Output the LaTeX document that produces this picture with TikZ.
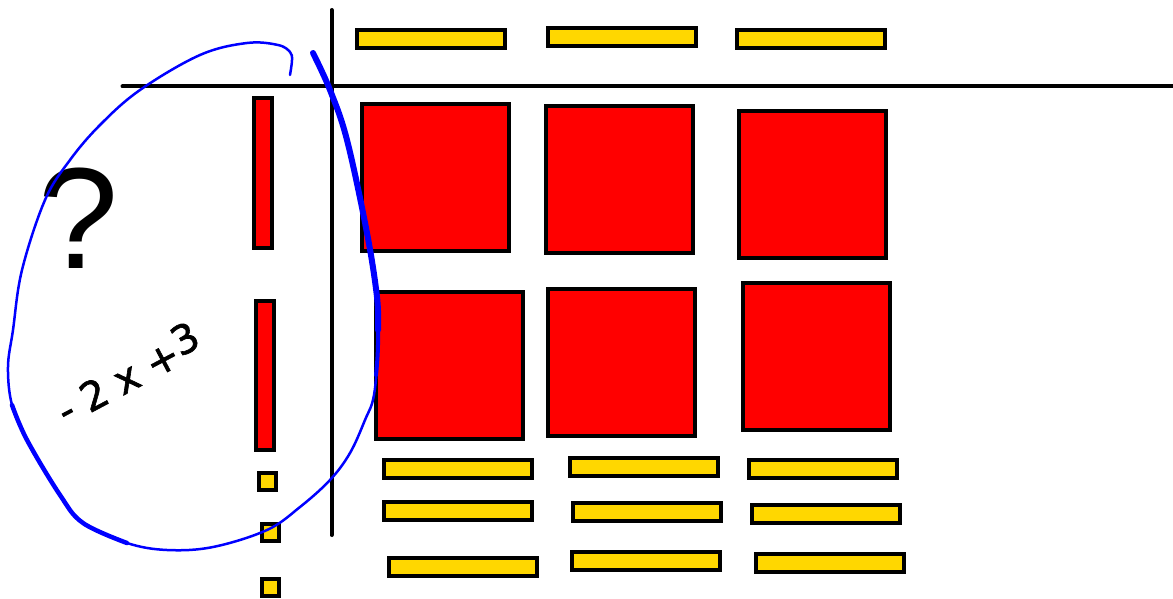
\documentclass[tikz,border=0pt]{standalone}
\usepackage{fontspec}
\newfontfamily\qfont{Liberation Sans}
\newfontfamily\handfont[FakeBold=1.5]{DejaVu Sans}
\definecolor{tileyellow}{RGB}{255,215,0}
\definecolor{tilered}{RGB}{255,0,0}
\definecolor{penblue}{RGB}{0,0,255}
\begin{document}
\begin{tikzpicture}[x=1pt,y=-1pt,
  tile/.style={draw=black, line width=4pt, inner sep=0pt, outer sep=0pt},
  xsq/.style={tile, fill=tilered, minimum width=147pt, minimum height=147pt},
  xbar/.style={tile, fill=tilered, minimum width=18pt, minimum height=149pt},
  unitbar/.style={tile, fill=tileyellow, minimum width=148pt, minimum height=18pt},
  unitsq/.style={tile, fill=tileyellow, minimum width=17pt, minimum height=17pt},
  axis/.style={line width=4pt, line cap=round},
  pen/.style={penblue, line cap=round, line join=round}]
\useasboundingbox (0,0) rectangle (1173,599);

% axes of the multiplication frame
\coordinate (vtop) at (331.5,10);
\coordinate (vbot) at (331.5,535);
\coordinate (hleft) at (122.5,86.5);
\coordinate (hright) at (1180,86.5);
\draw[axis] (vtop) -- (vbot);
\draw[axis] (hleft) -- (hright);

% top factor: three x-bars
\node[unitbar] (t1) at (431,39.5) {};
\node[unitbar] (t2) at (622,37.5) {};
\node[unitbar] (t3) at (811,39.5) {};

% left factor: two x-bars and three unit squares
\node[xbar] (l1) at (263,173) {};
\node[xbar] (l2) at (264.5,375) {};
\node[unitsq] (u1) at (267.5,481.5) {};
\node[unitsq] (u2) at (270.5,532.5) {};
\node[unitsq] (u3) at (270.5,587.5) {};

% product: x^2 tiles
\node[xsq] (r11) at (435.5,177.5) {};
\node[xsq] (r12) at (619,179.5) {};
\node[xsq] (r13) at (812.5,184.5) {};
\node[xsq] (r21) at (449,365.5) {};
\node[xsq] (r22) at (621,362.5) {};
\node[xsq] (r23) at (816,356.5) {};

% product: x tiles
\node[unitbar] (b11) at (457.5,468.5) {};
\node[unitbar] (b12) at (643.5,467) {};
\node[unitbar] (b13) at (822.5,468.5) {};
\node[unitbar] (b21) at (457.5,510.5) {};
\node[unitbar] (b22) at (646.5,512) {};
\node[unitbar] (b23) at (825.5,513.5) {};
\node[unitbar] (b31) at (463,567) {};
\node[unitbar] (b32) at (645.5,560.5) {};
\node[unitbar] (b33) at (829.5,562.5) {};

% question mark and handwritten factor
\node[inner sep=0pt, font=\qfont\fontsize{144}{144}\selectfont] (q) at (79,218) {?};
\node[inner sep=0pt, anchor=base west, rotate=28,
      font=\handfont\fontsize{40}{40}\selectfont] (expr) at (66,426)
      {-\hspace{12pt}2\hspace{12pt}x\hspace{12pt}+\raisebox{7pt}{3}};

% blue loop drawn around the left factor
\draw[pen, line width=2.5pt] plot[smooth, tension=0.6] coordinates {
  (313,53) (330,90) (347,140) (367,233) (377,297) (378,345) (374,395)
  (365,420) (350,453) (330,480) (300,507) (267,530) (213,547) (167,550)
  (127,543) (83,523) (60,495) (27,440) (12,405) (8,367) (13,330) (22,270)
  (45,200) (70,160) (100,125) (140,90) (200,55) (247,43) (278,45) (290,52)
  (292,60) (290,75)};
\draw[pen, line width=6pt] plot[smooth, tension=0.6] coordinates {
  (313,53) (330,90) (347,140) (367,233) (377,297) (378,330)};
\draw[pen, line width=4pt] plot[smooth, tension=0.6] coordinates {
  (367,233) (377,297) (378,345) (376,375)};
\draw[pen, line width=4.5pt] plot[smooth, tension=0.6] coordinates {
  (127,543) (83,523) (60,495) (27,440) (12,405)};
\end{tikzpicture}
\end{document}
